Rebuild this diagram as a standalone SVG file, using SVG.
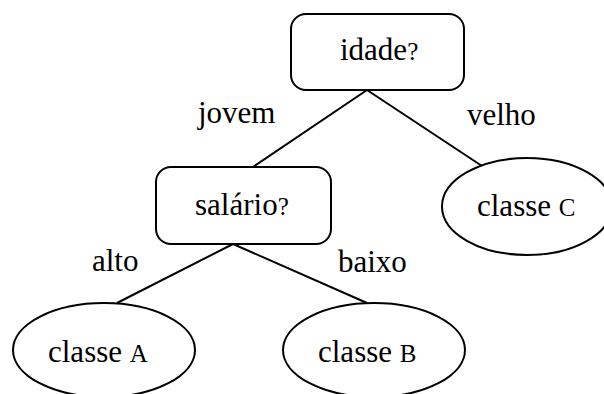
<svg xmlns="http://www.w3.org/2000/svg" width="604" height="394" viewBox="0 0 604 394">
  <style>
    .box { fill: #fff; stroke: #000; stroke-width: 2; }
    .edge { stroke: #000; stroke-width: 2; fill: none; }
    .lbl { font-family: 'Liberation Serif', 'Times New Roman', serif; font-size: 31px; fill: #000; }
    .sm { font-size: 25px; }
  </style>
  <rect width="604" height="394" fill="#fff"/>

  <g id="connectors">
    <line class="edge" x1="367" y1="90" x2="253" y2="167"/>
    <line class="edge" x1="367" y1="90" x2="482" y2="166"/>
    <line class="edge" x1="233" y1="244" x2="117" y2="303"/>
    <line class="edge" x1="233" y1="244" x2="367" y2="303"/>
    <text class="lbl" x="198" y="123">jovem</text>
    <text class="lbl" x="467" y="125">velho</text>
    <text class="lbl" x="92" y="271">alto</text>
    <text class="lbl" x="338" y="272">baixo</text>
  </g>

  <g id="idade">
    <rect class="box" x="291" y="14" width="173" height="76" rx="15"/>
    <text class="lbl" x="340" y="60">idade<tspan class="sm">?</tspan></text>
  </g>

  <g id="salario">
    <rect class="box" x="156" y="167" width="175" height="77" rx="15"/>
    <text class="lbl" x="195" y="215">salário<tspan class="sm">?</tspan></text>
  </g>

  <g id="classeC">
    <ellipse class="box" cx="527" cy="206.5" rx="85" ry="48.5"/>
    <text class="lbl" x="477" y="216">classe <tspan class="sm">C</tspan></text>
  </g>

  <g id="classeA">
    <ellipse class="box" cx="104" cy="350" rx="91" ry="47"/>
    <text class="lbl" x="48" y="362">classe <tspan class="sm">A</tspan></text>
  </g>

  <g id="classeB">
    <ellipse class="box" cx="374" cy="350" rx="91" ry="47"/>
    <text class="lbl" x="318" y="362">classe <tspan class="sm">B</tspan></text>
  </g>
</svg>
